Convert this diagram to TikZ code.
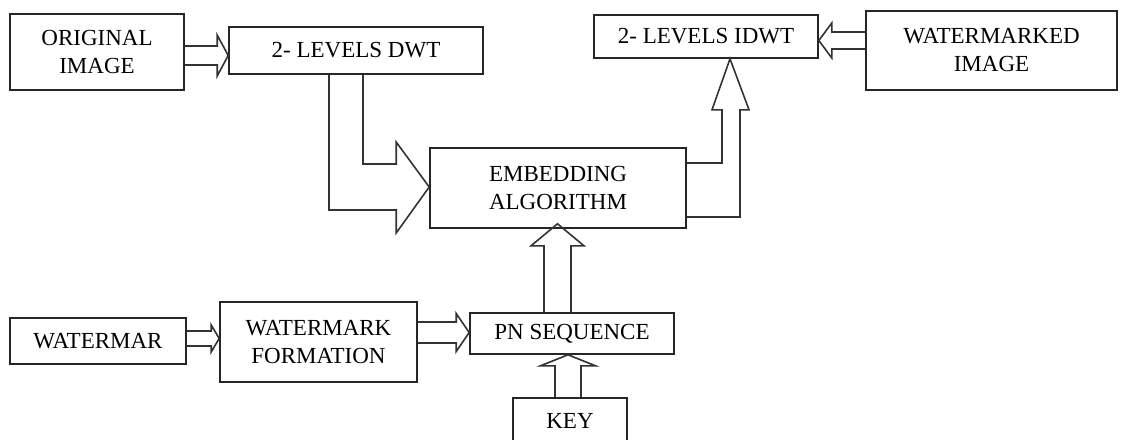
\documentclass[tikz,border=0pt]{standalone}
\usepackage{fontspec}
\setmainfont{Liberation Serif}
\usetikzlibrary{calc}

% hollow block arrows: #1 start, #2 tip, #3 shaft half, #4 head half, #5 head length
\newcommand\blockright[5]{\draw[hollow] let \p1=#1, \p2=#2 in
  (\x1,\y1+#3) -- (\x2-#5,\y1+#3) -- (\x2-#5,\y1+#4) -- (\x2,\y1)
  -- (\x2-#5,\y1-#4) -- (\x2-#5,\y1-#3) -- (\x1,\y1-#3);}
\newcommand\blockleft[5]{\draw[hollow] let \p1=#1, \p2=#2 in
  (\x1,\y1+#3) -- (\x2+#5,\y1+#3) -- (\x2+#5,\y1+#4) -- (\x2,\y1)
  -- (\x2+#5,\y1-#4) -- (\x2+#5,\y1-#3) -- (\x1,\y1-#3);}
\newcommand\blockup[5]{\draw[hollow] let \p1=#1, \p2=#2 in
  (\x1+#3,\y1) -- (\x1+#3,\y2-#5) -- (\x1+#4,\y2-#5) -- (\x1,\y2)
  -- (\x1-#4,\y2-#5) -- (\x1-#3,\y2-#5) -- (\x1-#3,\y1);}

\begin{document}
\begin{tikzpicture}[x=1pt, y=-1pt,
    blk/.style={draw=black!85, line width=1.6pt, align=center, inner sep=0pt,
      font=\fontsize{23}{28}\selectfont},
    hollow/.style={draw=black!80, line width=1.6pt, line join=miter}]
    \useasboundingbox (0,0) rectangle (1121,439);
    % Nodes
    \node[blk, minimum width=174, minimum height=76] (orig) at (97,52) {ORIGINAL\\IMAGE};
    \node[blk, minimum width=254, minimum height=47] (dwt) at (356,50.5) {2- LEVELS DWT};
    \node[blk, minimum width=224, minimum height=43] (idwt) at (706,36.5) {2- LEVELS IDWT};
    \node[blk, minimum width=251, minimum height=79] (wmimg) at (991.5,50.5) {WATERMARKED\\IMAGE};
    \node[blk, minimum width=256, minimum height=80] (embed) at (558,188) {EMBEDDING\\ALGORITHM};
    \node[blk, minimum width=176, minimum height=46] (wmar) at (98,341) {WATERMAR};
    \node[blk, minimum width=197, minimum height=80] (wform) at (318.5,342) {WATERMARK\\FORMATION};
    \node[blk, minimum width=204, minimum height=41] (pn) at (572,333.5) {PN SEQUENCE};
    \node[blk, minimum width=114, minimum height=46] (key) at (570,421) {KEY};

    % Block arrows
    \blockright{($(orig.east)+(0,3.5)$)}{(dwt.west)}{9.5pt}{20.5pt}{11pt}
    \blockleft{($(wmimg.west)+(0,-10)$)}{(idwt.east)}{8.5pt}{17.5pt}{13pt}
    \blockright{($(wmar.east)+(0,-2.5)$)}{(wform.west)}{7.5pt}{13.5pt}{8pt}
    \blockright{($(wform.east)+(0,-9.5)$)}{(pn.west)}{10.5pt}{19pt}{13pt}
    \blockup{($(pn.north)+(-14.5,0)$)}{($(embed.south)+(0,-5)$)}{13.5pt}{26.5pt}{22pt}
    \blockup{($(key.north)+(-2,0)$)}{(pn.south)}{13pt}{27.5pt}{11pt}
    \draw[hollow] ($(dwt.south)+(-27,0)$) |- ($(embed.west)+(-33,22)$) -- ++(0,23)
      -- ($(embed.west)+(0,-1)$) -- ($(embed.west)+(-33,-46)$) -- ++(0,22)
      -| ($(dwt.south)+(7,0)$);
    \draw[hollow] ($(embed.east)+(0,29)$) -| ($(idwt.south)+(34,51)$) -- ++(9,0)
      -- ($(idwt.south)+(24,0)$) -- ($(idwt.south)+(6,51)$) -- ++(10,0)
      |- ($(embed.east)+(0,-25)$);
\end{tikzpicture}
\end{document}
